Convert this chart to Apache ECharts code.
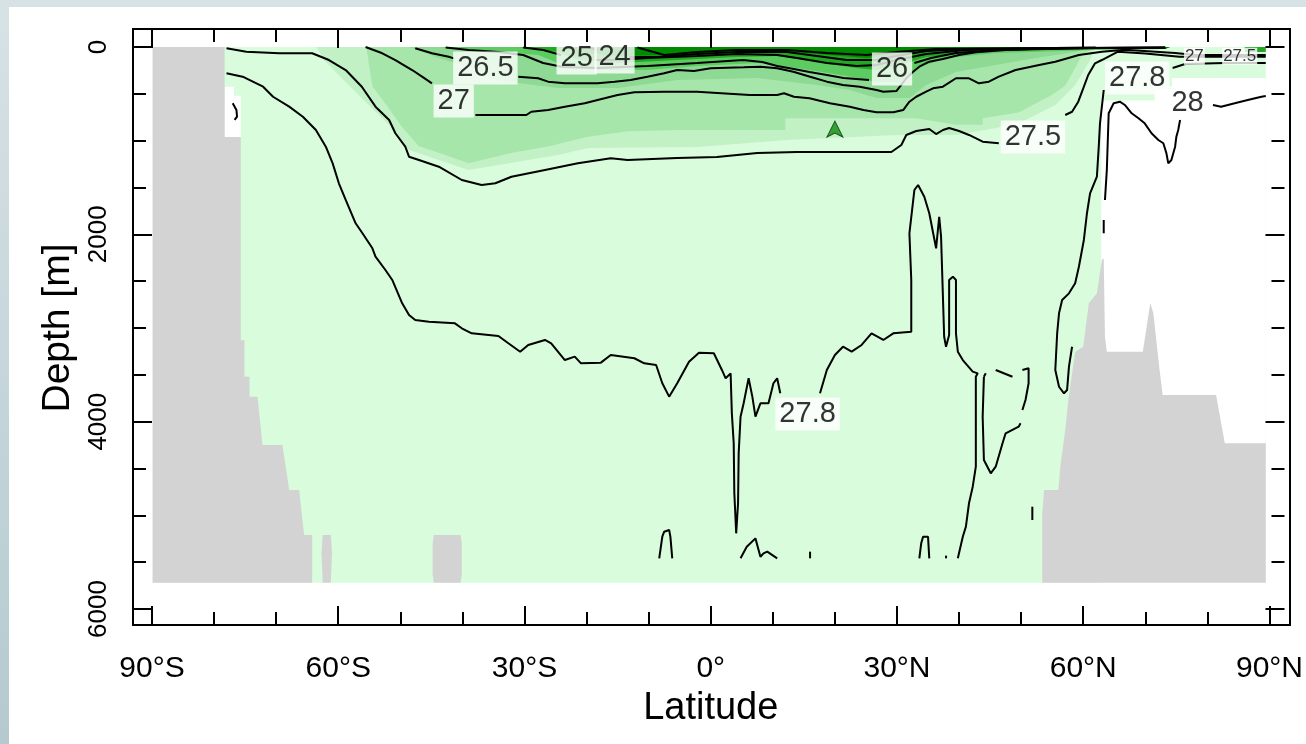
<!DOCTYPE html>
<html>
<head>
<meta charset="utf-8">
<script src="https://cdn.jsdelivr.net/npm/echarts@6/dist/echarts.min.js"></script>
<style>
  html, body { margin: 0; padding: 0; width: 1306px; height: 744px; overflow: hidden;
    background: linear-gradient(#d7e2e5, #b4cacf); }
  #paper { position: absolute; left: 9px; top: 7px; right: 0; bottom: 0; background: #fff; }
  #chart { position: absolute; left: 0; top: 0; width: 1306px; height: 744px; }
</style>
</head>
<body>
<div id="paper"></div>
<div id="chart"></div>
<script>
// ---- axes ----
const latTicks = [-90, -60, -30, 0, 30, 60, 90];
const latTickLabels = ['90°S', '60°S', '30°S', '0°', '30°N', '60°N', '90°N'];
const depthTicks = [0, 2000, 4000, 6000];
const depthTickLabels = ['0', '2000', '4000', '6000'];

// ---- section outline: [latitude, depth m] ----
const oceanSection = [[-89.9, 0], [89.4, 0], [89.4, 5720], [-89.9, 5720]];
const antarcticLand = [[-89.9, 0], [-78.3, 0], [-78.3, 960], [-75.7, 960], [-75.7, 3130], [-75.1, 3130],
  [-75.1, 3520], [-74.3, 3520], [-74.3, 3735], [-73.0, 3735], [-72.2, 4250], [-69.0, 4250], [-67.9, 4730],
  [-66.3, 4730], [-65.5, 5210], [-64.2, 5210], [-64.2, 5720], [-89.9, 5720]];
const southRidgeA = [[-62.5, 5210], [-61.2, 5210], [-61.0, 5400], [-61.2, 5720], [-62.5, 5720], [-62.7, 5400]];
const southRidgeB = [[-44.6, 5210], [-40.3, 5210], [-40.1, 5300], [-40.1, 5630], [-40.3, 5720], [-44.6, 5720],
  [-44.8, 5630], [-44.8, 5300]];
const arcticLand = [[53.4, 5720], [53.4, 4975], [53.7, 4730], [56.0, 4730], [56.3, 4480], [57.1, 4090],
  [57.6, 3770], [58.7, 3255], [60.0, 3200], [60.9, 2736], [62.2, 2630], [63.0, 2274], [63.3, 2256],
  [63.5, 3093], [63.8, 3253], [69.6, 3253], [70.8, 2733], [71.3, 2845], [72.3, 3450], [72.8, 3715],
  [81.4, 3715], [82.8, 4230], [89.4, 4230], [89.4, 5720]];
const noDataSouth = [[-78.3, 425], [-76.8, 425], [-76.8, 520], [-75.7, 520], [-75.7, 960], [-78.3, 960]];
const noDataNorth = [[62.9, 5720], [62.9, 570], [71.5, 570], [71.5, 450], [74.3, 450], [74.3, 330],
  [89.4, 330], [89.4, 5720]];

// ---- shaded density classes (lower edge of each class, closed along the surface) ----
const shade1 = [[-63.5, 0], [-62.3, 139], [-59.1, 352], [-55.9, 566], [-51.8, 833], [-48.6, 1100],
  [-43.8, 1206], [-39.0, 1313], [-34.2, 1260], [-24.6, 1153], [-19.8, 1078], [-2.2, 1068], [12.3, 993],
  [29.9, 939], [39.5, 939], [45.9, 865], [50.7, 779], [55.5, 619], [58.7, 406], [61.1, 139], [61.9, 0]];
const shade2 = [[-55.5, 0], [-54.5, 420], [-52.0, 640], [-49.8, 850], [-47.0, 1060], [-43.8, 1130],
  [-39.0, 1240], [-32.0, 1130], [-26.0, 1060], [-20.0, 960], [-13.4, 900], [-5.0, 886], [12.0, 886],
  [12.0, 760], [33.0, 760], [39.5, 830], [43.8, 830], [43.8, 760], [49.6, 700], [52.4, 600], [55.0, 510],
  [57.1, 410], [58.7, 225], [59.8, 85], [62.0, 0]];
const shade3 = [[-48.6, 0], [-43.8, 117], [-37.4, 246], [-34.7, 352], [-24.6, 438], [-15.0, 438],
  [-5.4, 352], [7.5, 331], [17.1, 406], [22.4, 459], [26.7, 544], [32.0, 544], [34.7, 406], [39.5, 267],
  [45.9, 192], [52.3, 117], [58.7, 53], [61.9, 0]];
const shade4 = [[-43.8, 0], [-37.4, 32], [-27.8, 85], [-24.6, 171], [-18.2, 246], [-10.2, 246], [-2.2, 203],
  [7.5, 171], [13.9, 224], [21.9, 310], [26.7, 374], [30.7, 374], [33.1, 224], [37.9, 117], [45.9, 64],
  [61.9, 32], [73.2, 21], [74.0, 0]];
const shade5 = [[-31.0, 0], [-24.6, 53], [-21.4, 139], [-15.0, 171], [-5.4, 139], [4.2, 107], [10.7, 96],
  [17.1, 160], [23.5, 224], [26.7, 246], [29.9, 203], [34.7, 107], [45.9, 43], [61.9, 21], [74.0, 0]];
const shade5Arctic = [[86.0, 0], [89.4, 0], [89.4, 53], [86.0, 53]];
const shade6 = [[-24.6, 0], [-21.4, 53], [-15.0, 96], [-5.4, 85], [1.0, 53], [7.5, 32], [17.1, 75],
  [25.1, 117], [29.9, 96], [36.3, 43], [45.9, 21], [73.2, 21], [74.0, 0]];

// ---- contour lines (sigma-theta) ----
const sigma230 = [
  [[-11.8, 5], [-7.5, 85], [-2.2, 53], [4.2, 32], [12.3, 32], [18.7, 64], [25.1, 85], [29.9, 53], [36.3, 21], [73.2, 5]]
];
const sigma240 = [
  [[-19.8, 5], [-18.2, 32]],
  [[-13.1, 107], [-8.6, 107], [-2.2, 75], [4.2, 53], [12.3, 53], [17.1, 96], [21.9, 139], [26.7, 139],
   [29.9, 96], [34.7, 43], [41.1, 21], [73.2, 5]]
];
const sigma250 = [
  [[-30.2, 5], [-27.0, 32], [-24.1, 85]],
  [[-18.7, 139], [-15.0, 139], [-10.2, 117], [-2.2, 96], [4.2, 75], [10.7, 85], [13.9, 117], [18.7, 171],
   [23.5, 203], [26.7, 192], [29.9, 139], [34.7, 75], [41.1, 32], [53.9, 11], [73.2, 9]]
];
const sigma260 = [
  [[-42.7, 5], [-39.0, 32], [-34.2, 53], [-30.2, 85], [-27.0, 171], [-23.8, 214], [-18.2, 224], [-10.2, 203],
   [-2.2, 171], [5.2, 139], [8.3, 160], [10.7, 203], [13.4, 235], [15.9, 267], [18.7, 299], [21.4, 331], [25.5, 352]],
  [[32.8, 171], [35.5, 117], [39.5, 64], [45.9, 32], [53.9, 21], [61.9, 11], [73.2, 11]]
];
const sigma265 = [
  [[-47.6, 14], [-44.9, 67], [-42.2, 104], [-41.4, 121]],
  [[-31.0, 317], [-27.8, 334], [-26.2, 370], [-23.5, 388], [-18.2, 388], [-15.5, 370], [-12.9, 352],
   [-10.2, 317], [-7.5, 281], [-5.4, 246], [-2.7, 256], [0, 227], [2.6, 221], [5.3, 217], [8.0, 210],
   [10.7, 227], [13.3, 264], [16.0, 317], [18.7, 370], [21.3, 406], [24.0, 424], [26.7, 459], [27.8, 477],
   [29.9, 470], [31.5, 334], [32.6, 264], [33.6, 210], [35.2, 157], [37.4, 128], [40.0, 85], [42.7, 57],
   [47.5, 32], [55.5, 10], [62.0, 5]]
];
const sigma270 = [
  [[-55.6, 0], [-52.9, 67], [-50.8, 139], [-48.1, 246], [-46.5, 317], [-44.9, 388]],
  [[-37.9, 726], [-29.7, 726], [-28.9, 691], [-26.2, 673], [-23.5, 637], [-20.3, 601], [-17.1, 548],
   [-15.0, 512], [-12.3, 484], [-7.5, 477], [-2.2, 477], [6.3, 512], [10.7, 512], [11.8, 494], [13.4, 531],
   [15.9, 548], [19.2, 601], [22.4, 637], [24.6, 673], [26.7, 697], [29.4, 697], [31.0, 673], [32.0, 584],
   [33.1, 531], [34.7, 477], [35.8, 441], [37.4, 424], [39.5, 334], [41.6, 334], [43.2, 388], [44.8, 370],
   [46.4, 317], [49.1, 246], [52.9, 192], [55.5, 157], [59.3, 85], [63.0, 50], [66.7, 30], [74.8, 64],
   [78.0, 85], [89.4, 85]]
];
const sigma275 = [
  [[-78.0, 14], [-74.8, 50], [-69.5, 67], [-64.2, 67], [-61.5, 139], [-58.8, 246], [-56.2, 424], [-54.0, 637],
   [-51.8, 779], [-50.8, 921], [-49.2, 1064], [-48.6, 1171], [-47.0, 1206], [-43.8, 1278], [-40.1, 1420],
   [-36.9, 1473], [-34.7, 1455], [-32.1, 1385], [-26.7, 1313], [-21.4, 1242], [-16.1, 1188], [-13.4, 1206],
   [-5.4, 1185], [1.0, 1174], [7.5, 1132], [13.9, 1121], [21.9, 1121], [29.1, 1121], [30.7, 1046],
   [31.5, 939], [33.1, 897], [35.2, 875], [36.3, 929], [37.4, 886], [38.4, 865], [40.0, 897], [41.6, 939],
   [43.8, 1011], [46.4, 1028]],
  [[57.1, 726], [58.2, 691], [59.2, 584], [60.0, 441], [60.8, 299], [61.9, 174], [63.0, 139], [65.6, 50],
   [70.0, 70], [75.5, 105], [89.4, 105]]
];
const sigma278 = [
  [[-78.0, 281], [-75.4, 317], [-72.1, 424], [-70.5, 531], [-67.9, 637], [-65.7, 744], [-63.6, 886],
   [-62.0, 1064], [-60.9, 1242], [-59.9, 1455], [-58.8, 1633], [-57.2, 1882], [-56.1, 1989], [-54.5, 2149],
   [-54.0, 2239], [-52.4, 2381], [-51.3, 2487], [-49.7, 2736], [-48.6, 2861], [-47.6, 2915], [-45.4, 2933],
   [-41.2, 2950], [-40.1, 3003], [-38.5, 3057], [-34.2, 3085], [-32.6, 3163], [-30.7, 3253], [-29.4, 3181],
   [-26.7, 3128], [-25.7, 3163], [-23.5, 3342], [-21.9, 3306], [-20.9, 3377], [-17.7, 3370], [-16.1, 3288],
   [-12.3, 3323], [-10.7, 3377], [-8.8, 3395], [-7.8, 3590], [-6.7, 3733], [-5.4, 3590], [-3.5, 3360],
   [-1.9, 3264], [0.5, 3270], [1.8, 3448], [2.4, 3537], [3.2, 3484], [3.4, 3911], [3.7, 4231], [3.8, 4765],
   [4.1, 5192], [4.4, 4871], [4.5, 4338], [4.8, 3947], [5.3, 3804], [6.1, 3537], [6.7, 3733], [7.2, 3947],
   [8.0, 3804], [9.3, 3804], [10.1, 3590], [10.7, 3537], [11.2, 3697]],
  [[17.6, 3697], [18.7, 3448], [20.0, 3288], [21.3, 3200], [22.7, 3253], [24.3, 3181], [25.9, 3057],
   [27.8, 3128], [29.4, 3057], [32.3, 3039], [32.3, 2487], [32.0, 1989], [32.8, 1527], [33.4, 1473],
   [34.4, 1598], [35.2, 1775], [36.3, 2149], [36.8, 1812], [37.1, 2025], [37.6, 3093], [37.9, 3200],
   [38.4, 3075], [38.4, 2487], [39.0, 2452], [39.5, 2487], [39.5, 3057], [39.8, 3253], [40.6, 3342],
   [42.2, 3466], [43.0, 3484], [42.7, 3520], [42.7, 4481], [42.2, 4694], [41.6, 4871], [41.1, 5121],
   [40.6, 5228], [39.8, 5459]],
  [[44.0, 3520], [43.8, 3947], [44.0, 4409], [45.1, 4551], [45.9, 4481], [47.0, 4231], [47.5, 4124],
   [49.6, 4054], [49.9, 4017]],
  [[50.2, 3875], [50.7, 3769], [51.2, 3590], [51.2, 3430], [50.2, 3448]],
  [[48.6, 3520], [45.9, 3448]],
  [[44.3, 3484], [44.0, 3520]],
  [[63.3, 459], [62.7, 815], [62.5, 1064], [62.2, 1385], [61.1, 1562], [60.6, 1775], [60.1, 2060],
   [59.3, 2346], [58.7, 2523], [57.7, 2630], [56.6, 2701], [56.1, 2843], [55.8, 3057], [55.5, 3448],
   [56.1, 3627], [56.9, 3697], [57.4, 3662], [57.7, 3413], [58.2, 3200]],
  [[74.4, 224], [76.4, 181], [82.8, 171], [89.4, 171]],
  [[-8.3, 5459], [-7.8, 5228], [-7.5, 5175], [-6.7, 5157], [-6.5, 5228], [-6.2, 5459]],
  [[4.8, 5459], [5.8, 5335], [7.2, 5246], [8.0, 5442], [8.5, 5406], [9.1, 5388], [10.7, 5459]],
  [[16.0, 5388], [16.0, 5459]],
  [[33.6, 5459], [33.9, 5299], [34.2, 5228], [35.0, 5228], [35.2, 5459]],
  [[37.9, 5430], [37.9, 5459]],
  [[51.8, 4908], [51.8, 5050]],
  [[-77.0, 601], [-76.4, 673], [-76.3, 744], [-76.7, 779]]
];
const sigma280 = [
  [[63.3, 1989], [63.3, 1847]],
  [[63.5, 1633], [63.8, 1313], [64.1, 708], [64.9, 601], [65.9, 584], [66.7, 619], [67.8, 708], [68.9, 761],
   [69.9, 815], [71.0, 921], [72.1, 993], [72.9, 1028], [73.4, 1135], [73.7, 1242], [74.2, 1206],
   [74.8, 1064], [75.0, 958], [75.3, 886], [75.6, 779]],
  [[80.9, 619], [82.2, 637], [84.4, 601], [86.5, 566], [88.7, 531], [89.4, 523]]
];

// ---- contour labels: [latitude, depth, text] ----
const contourLabels = [
  [-41.4, 577, '27'], [-36.3, 224, '26.5'], [-21.6, 117, '25'], [-15.5, 107, '24'],
  [29.2, 235, '26'], [51.9, 961, '27.5'], [68.7, 331, '27.8'], [76.8, 598, '28'], [15.6, 3918, '27.8']
];
const arcticLabels = [[77.9, 100, '27'], [85.2, 100, '27.5']];
// isolated dense cell in the subtropical North Atlantic
const denseCell = [[20.0, 790]];

// ---- styles ----
const LAND = '#d3d3d3';
const SHADES = ['#d8fcdc', '#c2f1c5', '#a6e6aa', '#8ed993', '#5ccb60', '#22a822', '#008a00'];
const FONT = "'Liberation Sans', Arial, sans-serif";
const TICK_FONT = "'Liberation Sans Narrow', 'Liberation Sans', Arial, sans-serif";

const series = [];
function addPolygons(polys, fill, z) {
  series.push({
    type: 'custom', xAxisIndex: 0, yAxisIndex: 0, z, silent: true, animation: false, clip: true,
    data: polys.map((p, i) => [i, 0]),
    renderItem: (params, api) => ({
      type: 'polygon',
      shape: { points: polys[params.dataIndex].map(pt => api.coord(pt)) },
      style: { fill }
    })
  });
}
function addContours(segments) {
  segments.forEach(seg => series.push({
    type: 'line', xAxisIndex: 0, yAxisIndex: 0, data: seg, symbol: 'none', showSymbol: false,
    lineStyle: { color: '#000', width: 2 }, z: 10, silent: true, animation: false, clip: true
  }));
}

addPolygons([oceanSection], SHADES[0], 1);
addPolygons([shade1], SHADES[1], 2);
addPolygons([shade2], SHADES[2], 3);
addPolygons([shade3], SHADES[3], 4);
addPolygons([shade4], SHADES[4], 5);
addPolygons([shade5, shade5Arctic], SHADES[5], 6);
addPolygons([shade6], SHADES[6], 7);
addPolygons([noDataSouth, noDataNorth], '#ffffff', 8);
addPolygons([antarcticLand, southRidgeA, southRidgeB, arcticLand], LAND, 9);
[sigma230, sigma240, sigma250, sigma260, sigma265, sigma270, sigma275, sigma278, sigma280].forEach(addContours);

series.push({
  type: 'scatter', xAxisIndex: 0, yAxisIndex: 0, data: denseCell, symbol: 'arrow', symbolSize: [12, 16],
  itemStyle: { color: '#0f8f0f', borderColor: '#063006', borderWidth: 1 }, z: 11, silent: true, animation: false
});
series.push({
  type: 'scatter', xAxisIndex: 0, yAxisIndex: 0, symbol: 'rect', symbolSize: 1, z: 20, silent: true, animation: false,
  itemStyle: { color: 'rgba(0,0,0,0)' },
  data: contourLabels.map(l => ({ value: [l[0], l[1]], name: l[2] })),
  label: { show: true, position: 'inside', formatter: '{b}', backgroundColor: '#fff', padding: [2, 4],
    color: '#000', fontSize: 29, fontFamily: FONT }
});
series.push({
  type: 'scatter', xAxisIndex: 0, yAxisIndex: 0, symbol: 'rect', symbolSize: 1, z: 20, silent: true, animation: false,
  itemStyle: { color: 'rgba(0,0,0,0)' },
  data: arcticLabels.map(l => ({ value: [l[0], l[1]], name: l[2] })),
  label: { show: true, position: 'inside', formatter: '{b}', backgroundColor: '#fff', padding: [0, 1],
    color: '#000', fontSize: 17, fontFamily: FONT }
});

const tickStyle = { color: '#000', width: 2 };
const latAxisBase = {
  gridIndex: 0, type: 'value', min: -90, max: 90, interval: 30, z: 30,
  axisLine: { show: false, onZero: false },
  axisTick: { show: true, inside: true, length: 19, lineStyle: tickStyle },
  minorTick: { show: true, splitNumber: 3, length: 13, lineStyle: tickStyle },
  splitLine: { show: false }, minorSplitLine: { show: false }
};
const depthAxisBase = {
  gridIndex: 0, type: 'value', inverse: true, min: 0, max: 6000, interval: 2000, z: 30,
  axisLine: { show: false, onZero: false },
  axisTick: { show: true, inside: true, length: 19, lineStyle: tickStyle },
  minorTick: { show: true, splitNumber: 4, length: 13, lineStyle: tickStyle },
  splitLine: { show: false }, minorSplitLine: { show: false }
};

const option = {
  animation: false,
  backgroundColor: 'transparent',
  grid: [
    { left: 152, right: 31, top: 47, bottom: 135, show: false },
    { left: 133, right: 16, top: 29, bottom: 119, show: true, borderColor: '#000', borderWidth: 2,
      backgroundColor: 'transparent' }
  ],
  xAxis: [
    Object.assign({}, latAxisBase, {
      position: 'bottom', offset: 16,
      axisLabel: { margin: 29, fontSize: 30, color: '#000', fontFamily: TICK_FONT,
        formatter: v => latTickLabels[latTicks.indexOf(v)] },
      name: 'Latitude', nameLocation: 'middle', nameGap: 65,
      nameTextStyle: { fontSize: 38, color: '#000', fontFamily: FONT }
    }),
    Object.assign({}, latAxisBase, { position: 'top', offset: 18, axisLabel: { show: false } }),
    { gridIndex: 1, type: 'value', show: false, min: 0, max: 1 }
  ],
  yAxis: [
    Object.assign({}, depthAxisBase, {
      position: 'left', offset: 19,
      axisLabel: { rotate: 90, margin: 21, fontSize: 26, color: '#000', fontFamily: TICK_FONT,
        formatter: v => depthTickLabels[depthTicks.indexOf(v)] },
      name: 'Depth [m]', nameLocation: 'middle', nameGap: 46,
      nameTextStyle: { fontSize: 39, color: '#000', fontFamily: FONT }
    }),
    Object.assign({}, depthAxisBase, { position: 'right', offset: 15, axisLabel: { show: false } }),
    { gridIndex: 1, type: 'value', show: false, min: 0, max: 1 }
  ],
  series
};

const chart = echarts.init(document.getElementById('chart'), null, { renderer: 'canvas' });
chart.setOption(option);
</script>
</body>
</html>
